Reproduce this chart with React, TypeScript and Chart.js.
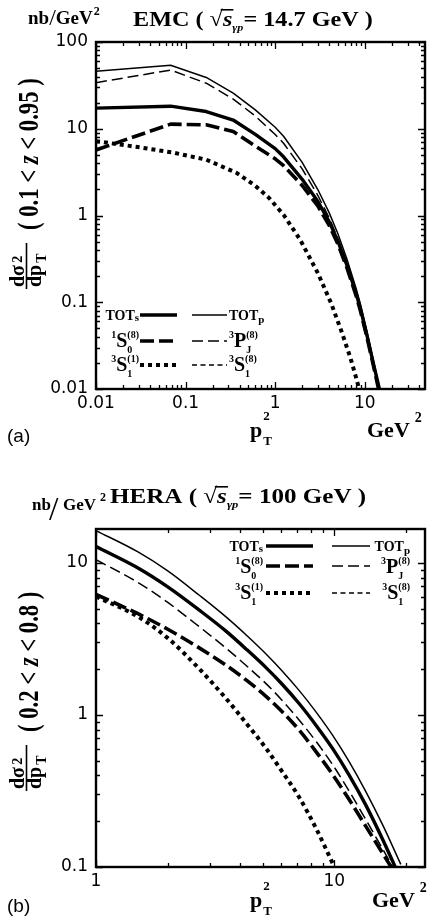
import React, { useEffect, useRef } from 'react';
import { Chart, registerables } from 'chart.js';

Chart.register(...registerables);

// ---------------- Panel (a): EMC (sqrt(s) = 14.7 GeV), 0.1 < z < 0.95 ----------------
const A_X_DECADES = [0.01, 0.1, 1, 10];
const A_X_LABELS = ['0.01', '0.1', '1', '10'];
const A_Y_DECADES = [0.01, 0.1, 1, 10, 100];
const A_Y_LABELS = ['0.01', '0.1', '1', '10', '100'];

const A_PT2 = [0.01, 0.068, 0.17, 0.34, 0.6, 1, 1.24, 2, 3, 4, 5, 6.3, 8, 8.9, 10.6, 12.5, 15];
const A_TOTP_Y = [46, 54, 39, 25.7, 16.5, 10.4, 8.2, 4.1, 1.98, 1.08, 0.62, 0.317, 0.144, 0.097, 0.0457, 0.021, 0.0085];
const A_P8_Y = [34, 47.5, 33.5, 22, 14, 8.6, 6.8, 3.45, 1.7, 0.94, 0.545, 0.28, 0.128, 0.087, 0.041, 0.0188, 0.0077];
const A_TOTS_Y = [17.3, 18.2, 15.8, 12.6, 8.6, 5.9, 4.75, 2.61, 1.45, 0.85, 0.51, 0.27, 0.126, 0.086, 0.041, 0.0195, 0.0088];
const A_S08_Y = [5.7, 11.3, 11.1, 9.3, 6.3, 4.5, 3.75, 2.22, 1.28, 0.77, 0.47, 0.252, 0.119, 0.081, 0.039, 0.0185, 0.0078];
const A_S11_X = [0.01, 0.031, 0.073, 0.17, 0.37, 0.6, 0.85, 1.24, 1.9, 3, 4.2, 5.5, 6.9, 8, 8.7];
const A_S11_Y = [7.2, 6.1, 5.3, 4.4, 3.1, 2.2, 1.6, 1.02, 0.526, 0.216, 0.098, 0.046, 0.023, 0.0135, 0.0098];
const A_S18_X: number[] = [];
const A_S18_Y: number[] = [];

// ---------------- Panel (b): HERA (sqrt(s) = 100 GeV), 0.2 < z < 0.8 ----------------
const B_X_DECADES = [1, 10];
const B_X_LABELS = ['1', '10'];
const B_Y_DECADES = [0.1, 1, 10];
const B_Y_LABELS = ['0.1', '1', '10'];

const B_TOTP_X = [1, 1.5, 2, 2.72, 3.5, 4.3, 5.18, 6, 7.14, 8.4, 9.84, 11.5, 13.5, 16, 19];
const B_TOTP_Y = [16.3, 11.8, 8.85, 6.1, 4.43, 3.32, 2.51, 1.97, 1.44, 1.04, 0.734, 0.497, 0.317, 0.187, 0.104];
const B_TOTS_X = [1, 1.5, 2, 2.72, 3.5, 4.3, 5.18, 6, 7.14, 8.4, 9.84, 11.5, 13.5, 16, 18];
const B_TOTS_Y = [12.8, 9.25, 6.95, 4.87, 3.57, 2.68, 2.04, 1.61, 1.18, 0.85, 0.6, 0.405, 0.258, 0.15, 0.1];
const B_P8_X = [1, 1.5, 2, 2.72, 3.5, 4.3, 5.18, 6, 7.14, 8.4, 9.84, 11.5, 13.5, 16, 17.6];
const B_P8_Y = [10.5, 7.43, 5.49, 3.79, 2.76, 2.09, 1.6, 1.26, 0.92, 0.666, 0.47, 0.318, 0.207, 0.13, 0.1];
const B_S08_X = [1, 1.5, 2, 2.72, 3.5, 4.3, 5.18, 6, 7.14, 8.4, 9.84, 11.5, 13.5, 16, 17.3];
const B_S08_Y = [6.2, 4.63, 3.66, 2.75, 2.13, 1.68, 1.32, 1.06, 0.79, 0.57, 0.405, 0.28, 0.187, 0.122, 0.1];
const B_S11_X = [1, 1.5, 2, 2.72, 3.5, 4.3, 5.18, 6, 7.14, 8.4, 10];
const B_S11_Y = [6.0, 4.43, 3.2, 2.0, 1.29, 0.87, 0.6, 0.43, 0.285, 0.178, 0.1];
const B_S18_X: number[] = [];
const B_S18_Y: number[] = [];

// ---------------- styling helpers ----------------
const SERIF = '"Liberation Serif", "DejaVu Serif", serif';
const SANS = '"Liberation Sans", "DejaVu Sans", sans-serif';
const fb = (px: number) => `bold ${px}px ${SERIF}`;
const fbi = (px: number) => `italic bold ${px}px ${SERIF}`;
const fr = (px: number) => `${px}px ${SERIF}`;

type Seg = {
  t?: string; f: string; dy?: number; dx?: number;
  sup?: string; sub?: string; supDy?: number; subDy?: number;
  over?: number;
};

function segWidth(ctx: CanvasRenderingContext2D, s: Seg) {
  ctx.font = s.f;
  if (s.t !== undefined) return ctx.measureText(s.t).width + (s.dx || 0);
  const a = ctx.measureText(s.sup || '').width;
  const b = ctx.measureText(s.sub || '').width;
  return Math.max(a, b) + (s.dx || 0);
}

function richWidth(ctx: CanvasRenderingContext2D, segs: Seg[]) {
  return segs.reduce((w, s) => w + segWidth(ctx, s), 0);
}

function drawRich(ctx: CanvasRenderingContext2D, segs: Seg[], x: number, y: number, align = 'left', sx = 1) {
  ctx.save();
  ctx.translate(x, y);
  ctx.scale(sx, 1);
  ctx.textAlign = 'left';
  ctx.textBaseline = 'alphabetic';
  ctx.fillStyle = '#000';
  const total = richWidth(ctx, segs);
  let cx = align === 'right' ? -total : align === 'center' ? -total / 2 : 0;
  for (const s of segs) {
    const w = segWidth(ctx, s);
    ctx.font = s.f;
    const dx = s.dx || 0;
    if (s.t !== undefined) {
      ctx.fillText(s.t, cx + dx, s.dy || 0);
      if (s.over !== undefined) ctx.fillRect(cx + dx - 2, s.over, w - dx + 3, 1.6);
    } else {
      if (s.sup) ctx.fillText(s.sup, cx + dx, s.supDy || 0);
      if (s.sub) ctx.fillText(s.sub, cx + dx, s.subDy || 0);
    }
    cx += w;
  }
  ctx.restore();
}

const isDecade = (v: number) => Math.abs(Math.log10(v) - Math.round(Math.log10(v))) < 1e-6;

function logTicks(decades: number[], min: number, max: number) {
  const out: number[] = [];
  for (const d of decades) {
    for (let m = 1; m <= 9; m++) {
      const v = +(d * m).toPrecision(6);
      if (v >= min * 0.9999 && v <= max * 1.0001) out.push(v);
    }
  }
  return out;
}

function labelFrom(decades: number[], labels: string[]) {
  return (v: number | string) => {
    const n = Number(v);
    const i = decades.findIndex((d) => Math.abs(d - n) / d < 1e-6);
    return i >= 0 ? labels[i] : '';
  };
}

const framePlugin = {
  id: 'frameTicks',
  afterDraw(chart: any) {
    const { ctx, chartArea: a, scales } = chart;
    const x = scales.x, y = scales.y;
    ctx.save();
    ctx.strokeStyle = '#000';
    ctx.lineWidth = 1.3;
    ctx.beginPath();
    for (const t of x.ticks) {
      const px = Math.round(x.getPixelForValue(t.value)) + 0.5;
      if (px < a.left - 0.5 || px > a.right + 0.5) continue;
      const L = isDecade(t.value) ? 7 : 4;
      ctx.moveTo(px, a.bottom); ctx.lineTo(px, a.bottom - L);
      ctx.moveTo(px, a.top); ctx.lineTo(px, a.top + L);
    }
    for (const t of y.ticks) {
      const py = Math.round(y.getPixelForValue(t.value)) + 0.5;
      if (py < a.top - 0.5 || py > a.bottom + 0.5) continue;
      const L = isDecade(t.value) ? 7 : 4;
      ctx.moveTo(a.left, py); ctx.lineTo(a.left + L, py);
      ctx.moveTo(a.right, py); ctx.lineTo(a.right - L, py);
    }
    ctx.stroke();
    ctx.lineWidth = 2.4;
    ctx.strokeRect(a.left, a.top, a.right - a.left, a.bottom - a.top);
    ctx.restore();
  },
};

type Series = { x: number[]; y: number[]; w: number; dash: number[] };

function ds(label: string, s: Series, smooth: boolean) {
  return {
    label,
    data: s.x.map((xv, i) => ({ x: xv, y: s.y[i] })),
    borderColor: '#000',
    backgroundColor: '#000',
    borderWidth: s.w,
    borderDash: s.dash,
    borderCapStyle: 'butt',
    borderJoinStyle: 'round',
    pointRadius: 0,
    fill: false,
    tension: 0,
    cubicInterpolationMode: smooth ? 'monotone' : 'default',
  };
}

const STY = {
  TOTS: { w: 3.4, dash: [] as number[] },
  TOTP: { w: 1.5, dash: [] as number[] },
  S08: { w: 3.6, dash: [14, 5] },
  P8: { w: 1.5, dash: [11, 5] },
  S11: { w: 4, dash: [4, 4] },
  S18: { w: 1.4, dash: [5, 3.5] },
};

const L_TOTS: Seg[] = [{ t: 'TOT', f: fb(14) }, { t: 's', f: fb(11), dy: 1 }];
const L_TOTP: Seg[] = [{ t: 'TOT', f: fb(14) }, { t: 'p', f: fb(11), dy: 3 }];
const L_S08: Seg[] = [{ t: '1', f: fb(10), dy: -9 }, { t: 'S', f: fb(20) }, { sup: '(8)', sub: '0', f: fb(10), supDy: -9, subDy: 6 }];
const L_P8: Seg[] = [{ t: '3', f: fb(10), dy: -9 }, { t: 'P', f: fb(20) }, { sup: '(8)', sub: 'J', f: fb(10), supDy: -9, subDy: 6 }];
const L_S11: Seg[] = [{ t: '3', f: fb(10), dy: -9 }, { t: 'S', f: fb(20) }, { sup: '(1)', sub: '1', f: fb(10), supDy: -9, subDy: 6 }];
const L_S18: Seg[] = [{ t: '3', f: fb(10), dy: -9 }, { t: 'S', f: fb(20) }, { sup: '(8)', sub: '1', f: fb(10), supDy: -9, subDy: 6 }];

function sample(ctx: CanvasRenderingContext2D, d: any, x1: number, x2: number, y: number) {
  ctx.save();
  ctx.strokeStyle = '#000';
  ctx.lineWidth = d.borderWidth;
  ctx.setLineDash(d.borderDash || []);
  ctx.lineCap = 'butt';
  ctx.beginPath();
  ctx.moveTo(x1, y);
  ctx.lineTo(x2, y);
  ctx.stroke();
  ctx.restore();
}

function titleSegs(name: string, val: string): Seg[] {
  return [
    { t: name + ' ( ', f: fb(22) },
    { t: '\u221A', f: fr(22) },
    { t: 's', f: fbi(22), over: -17 },
    { t: '\u03B3p', f: fbi(11), dy: 5 },
    { t: '= ' + val + ' GeV )', f: fb(22) },
  ];
}

function yTitle(ctx: CanvasRenderingContext2D, x0: number, y0: number, lo: string, hi: string) {
  ctx.save();
  ctx.translate(x0, y0);
  ctx.rotate(-Math.PI / 2);
  drawRich(ctx, [{ t: 'd\u03C3', f: fb(20) }], 3, -14);
  drawRich(ctx, [{ t: 'dp', f: fb(20) }, { sup: '2', sub: 'T', f: fb(14), supDy: -19, subDy: 5, dx: 2 }], 3, 3);
  ctx.fillRect(1, -12.3, 46, 1.6);
  ctx.scale(1, 1.3);
  drawRich(ctx, [{ t: '( ' + lo + ' < ', f: fb(22) }, { t: 'z', f: fbi(22) }, { t: ' < ' + hi + ' )', f: fb(22) }], 60, 0, 'left', 1.03);
  ctx.restore();
}

function xTitle(ctx: CanvasRenderingContext2D, px: number, gx: number, y: number) {
  drawRich(ctx, [{ t: 'p', f: fb(22) }, { sup: '2', sub: 'T', f: fb(13), supDy: -17, subDy: 8, dx: 1 }], px, y);
  drawRich(ctx, [{ t: 'GeV', f: fb(22) }, { t: '2', f: fb(14), dy: -15, dx: 5 }], gx, y);
}

const textA = {
  id: 'textA',
  afterDraw(chart: any) {
    const ctx: CanvasRenderingContext2D = chart.ctx;
    const d = chart.data.datasets;
    drawRich(ctx, [{ t: 'nb', f: fb(19) }, { t: '/', f: fr(24), dy: 1 }, { t: 'GeV', f: fb(19) }, { t: '2', f: fb(12), dy: -9, dx: 1 }], 28, 24);
    drawRich(ctx, titleSegs('EMC', '14.7'), 133, 26, 'left', 1.1);
    yTitle(ctx, 38, 290, '0.1', '0.95');
    xTitle(ctx, 250, 367, 437);
    ctx.font = `19px ${SANS}`;
    ctx.fillStyle = '#000';
    ctx.textAlign = 'left';
    ctx.textBaseline = 'alphabetic';
    ctx.fillText('(a)', 7, 442);
    const rows: [Seg[], number, Seg[], number, number, number][] = [
      [L_TOTS, 0, L_TOTP, 1, 315, 320],
      [L_S08, 2, L_P8, 3, 341, 347],
      [L_S11, 4, L_S18, 5, 365, 371],
    ];
    for (const [ls, li, rs, ri, ly, by] of rows) {
      drawRich(ctx, ls, 139, by, 'right');
      sample(ctx, d[li], 140, 177, ly);
      sample(ctx, d[ri], 192, 227, ly);
      drawRich(ctx, rs, 229, by, 'left');
    }
  },
};

const textB = {
  id: 'textB',
  afterDraw(chart: any) {
    const ctx: CanvasRenderingContext2D = chart.ctx;
    const d = chart.data.datasets;
    drawRich(ctx, [{ t: 'nb', f: fb(17) }], 32, 50);
    drawRich(ctx, [{ t: '/', f: fr(34) }], 49, 60);
    drawRich(ctx, [{ t: 'GeV', f: fb(17) }, { t: '2', f: fb(12), dy: -9, dx: 4 }], 63, 50);
    drawRich(ctx, titleSegs('HERA', '100'), 110, 43, 'left', 1.14);
    yTitle(ctx, 38, 332, '0.2', '0.8');
    xTitle(ctx, 250, 372, 447);
    ctx.font = `19px ${SANS}`;
    ctx.fillStyle = '#000';
    ctx.textAlign = 'left';
    ctx.textBaseline = 'alphabetic';
    ctx.fillText('(b)', 7, 452);
    const rows: [Seg[], number, Seg[], number, number, number][] = [
      [L_TOTS, 0, L_TOTP, 1, 86, 91],
      [L_S08, 2, L_P8, 3, 106, 113],
      [L_S11, 4, L_S18, 5, 133, 139],
    ];
    for (const [ls, li, rs, ri, ly, by] of rows) {
      drawRich(ctx, ls, 263, by, 'right');
      sample(ctx, d[li], 266, 313, ly);
      sample(ctx, d[ri], 332, 370, ly);
      drawRich(ctx, rs, 410, by, 'right');
    }
  },
};

function axis(decades: number[], labels: string[], min: number, max: number, isX: boolean, size: number) {
  const tickVals = logTicks(decades, min, max);
  return {
    type: 'logarithmic',
    min,
    max,
    afterBuildTicks: (s: any) => { s.ticks = tickVals.map((v) => ({ value: v })); },
    afterFit: (s: any) => { if (isX) s.height = size; else s.width = size; },
    grid: { display: false, drawTicks: false },
    border: { display: false },
    ticks: {
      autoSkip: false,
      maxRotation: 0,
      minRotation: 0,
      padding: isX ? 4 : 8,
      color: '#000',
      font: { family: 'DejaVu Sans', size: 17 },
      callback: labelFrom(decades, labels),
    },
  };
}

function makeConfig(panel: 'a' | 'b'): any {
  const A = panel === 'a';
  const series: [string, Series][] = A
    ? [
        ['TOTs', { x: A_PT2, y: A_TOTS_Y, ...STY.TOTS }],
        ['TOTp', { x: A_PT2, y: A_TOTP_Y, ...STY.TOTP }],
        ['1S0(8)', { x: A_PT2, y: A_S08_Y, ...STY.S08 }],
        ['3PJ(8)', { x: A_PT2, y: A_P8_Y, ...STY.P8 }],
        ['3S1(1)', { x: A_S11_X, y: A_S11_Y, ...STY.S11 }],
        ['3S1(8)', { x: A_S18_X, y: A_S18_Y, ...STY.S18 }],
      ]
    : [
        ['TOTs', { x: B_TOTS_X, y: B_TOTS_Y, ...STY.TOTS }],
        ['TOTp', { x: B_TOTP_X, y: B_TOTP_Y, ...STY.TOTP }],
        ['1S0(8)', { x: B_S08_X, y: B_S08_Y, ...STY.S08 }],
        ['3PJ(8)', { x: B_P8_X, y: B_P8_Y, ...STY.P8 }],
        ['3S1(1)', { x: B_S11_X, y: B_S11_Y, ...STY.S11 }],
        ['3S1(8)', { x: B_S18_X, y: B_S18_Y, ...STY.S18 }],
      ];
  return {
    type: 'line',
    data: { datasets: series.map(([l, s]) => ds(l, s, !A)) },
    options: {
      animation: false,
      responsive: false,
      devicePixelRatio: 1,
      events: [],
      layout: A
        ? { padding: { left: 0, right: 5, top: 42, bottom: 41 } }
        : { padding: { left: 0, right: 5, top: 69, bottom: 24 } },
      plugins: { legend: { display: false }, tooltip: { enabled: false }, title: { display: false } },
      scales: A
        ? {
            x: axis(A_X_DECADES, A_X_LABELS, 0.01, 47, true, 30),
            y: axis(A_Y_DECADES, A_Y_LABELS, 0.01, 100, false, 96),
          }
        : {
            x: axis(B_X_DECADES, B_X_LABELS, 1, 24, true, 30),
            y: axis(B_Y_DECADES, B_Y_LABELS, 0.1, 16.7, false, 96),
          },
    },
    plugins: [framePlugin, A ? textA : textB],
  };
}

function Panel({ panel, top, height }: { panel: 'a' | 'b'; top: number; height: number }) {
  const ref = useRef<HTMLCanvasElement>(null);
  useEffect(() => {
    const chart = new Chart(ref.current as HTMLCanvasElement, makeConfig(panel));
    return () => chart.destroy();
  }, [panel]);
  return (
    <canvas
      ref={ref}
      width={430}
      height={height}
      style={{ position: 'absolute', left: 0, top, width: 430, height, display: 'block' }}
    />
  );
}

export default function App() {
  return (
    <div style={{ position: 'fixed', left: 0, top: 0, width: 430, height: 921, background: '#fff', overflow: 'hidden' }}>
      <Panel panel="a" top={0} height={460} />
      <Panel panel="b" top={460} height={461} />
    </div>
  );
}
